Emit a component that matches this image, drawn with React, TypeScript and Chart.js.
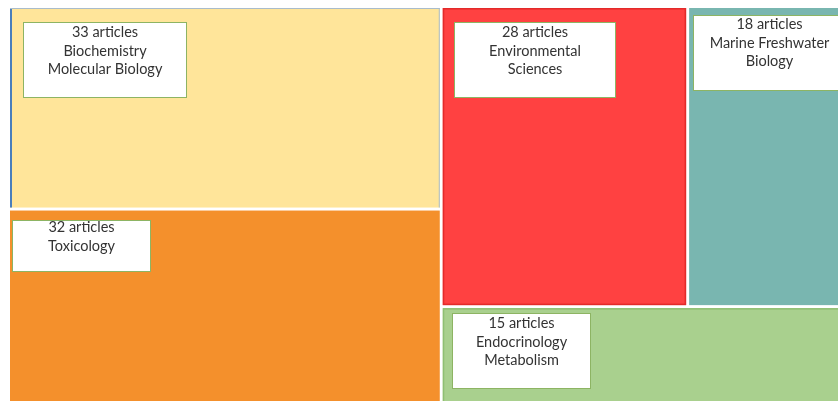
import React, { useEffect, useRef } from "react";
import { Chart, registerables } from "chart.js";

Chart.register(...registerables);

// ---- data ----
const categories = [
  "Biochemistry Molecular Biology",
  "Toxicology",
  "Environmental Sciences",
  "Marine Freshwater Biology",
  "Endocrinology Metabolism",
];
const articleCounts = [33, 32, 28, 18, 15];
const labelLines = [
  ["Biochemistry", "Molecular Biology"],
  ["Toxicology"],
  ["Environmental", "Sciences"],
  ["Marine Freshwater", "Biology"],
  ["Endocrinology", "Metabolism"],
];
// grouping of the treemap (indices into categories)
const layoutTree = { dir: "h", children: [
  { dir: "v", children: [0, 1] },
  { dir: "v", children: [{ dir: "h", children: [2, 3] }, 4] },
] };

// ---- styles ----
const fillColors = ["#FFE59A", "#F4902C", "#FF4141", "#79B6B0", "#A9D08E"];
const borderColors = [null, null, "#E32A2A", null, "#8FBF73"];
// label box geometry in px relative to the cell's top-left: [dx, dy, w, h, firstLineOffset]
const labelBoxes = [
  [13, 14, 163, 75, 10],
  [2, 9, 138, 51, 7],
  [11, 14, 161, 75, 10],
  [4, 7, 152, 75, 9],
  [9, 5, 138, 75, 10],
];

type Rect = { x0: number; y0: number; x1: number; y1: number };

function sumOf(node: any): number {
  if (typeof node === "number") return articleCounts[node];
  return node.children.reduce((s: number, c: any) => s + sumOf(c), 0);
}

function layout(node: any, r: Rect, out: Record<number, Rect>) {
  if (typeof node === "number") {
    out[node] = r;
    return;
  }
  const total = sumOf(node);
  let acc = 0;
  node.children.forEach((c: any) => {
    const v = sumOf(c);
    const a = acc / total;
    const b = (acc + v) / total;
    acc += v;
    const sub: Rect =
      node.dir === "h"
        ? { x0: r.x0 + (r.x1 - r.x0) * a, x1: r.x0 + (r.x1 - r.x0) * b, y0: r.y0, y1: r.y1 }
        : { x0: r.x0, x1: r.x1, y0: r.y0 + (r.y1 - r.y0) * a, y1: r.y0 + (r.y1 - r.y0) * b };
    layout(c, sub, out);
  });
}

const treemapPlugin = {
  id: "treemapCells",
  afterDatasetsDraw(chart: any) {
    const { ctx, scales } = chart;
    const xs = scales.x;
    const ys = scales.y;
    const cells: Record<number, Rect> = {};
    layout(layoutTree, { x0: 0, y0: 0, x1: 1, y1: 1 }, cells);
    const gap = 1.5;
    ctx.save();
    categories.forEach((_, i) => {
      const c = cells[i];
      let left = xs.getPixelForValue(c.x0);
      let right = xs.getPixelForValue(c.x1);
      let top = ys.getPixelForValue(c.y0);
      let bottom = ys.getPixelForValue(c.y1);
      if (c.x0 > 0) left += gap;
      if (c.x1 < 1) right -= gap;
      if (c.y0 > 0) top += gap;
      if (c.y1 < 1) bottom -= gap;
      ctx.fillStyle = fillColors[i];
      ctx.fillRect(left, top, right - left, bottom - top);
      if (borderColors[i]) {
        ctx.strokeStyle = borderColors[i];
        ctx.lineWidth = 1.5;
        ctx.strokeRect(left + 0.75, top + 0.75, right - left - 1.5, bottom - top - 1.5);
      }
      if (i === 0) {
        ctx.fillStyle = "#4A7EBB";
        ctx.fillRect(left, top, 2, bottom - top);
        ctx.fillStyle = "#A9BCCB";
        ctx.fillRect(left, top, right - left, 1);
        ctx.fillRect(right - 1, top, 1, bottom - top);
      }
      const [dx, dy, w, h, off] = labelBoxes[i];
      const bx = Math.round(left + dx) + 0.5;
      const by = Math.round(top + dy) + 0.5;
      ctx.fillStyle = "#FFFFFF";
      ctx.fillRect(bx, by, w, h);
      ctx.strokeStyle = "#8DB463";
      ctx.lineWidth = 1;
      ctx.strokeRect(bx, by, w, h);
      ctx.fillStyle = "#333333";
      ctx.font = "14.5px Lato";
      ctx.textAlign = "center";
      ctx.textBaseline = "middle";
      const lines = [articleCounts[i] + " articles", ...labelLines[i]];
      lines.forEach((t, k) => {
        ctx.fillText(t, bx + w / 2, by + off + k * 18.5);
      });
    });
    ctx.restore();
  },
};

export default function App() {
  const ref = useRef<HTMLCanvasElement>(null);
  useEffect(() => {
    if (!ref.current) return;
    const chart = new Chart(ref.current, {
      type: "scatter",
      data: { datasets: [{ data: [], label: "articles" }] },
      options: {
        animation: false,
        responsive: true,
        maintainAspectRatio: false,
        layout: { padding: { left: 2, right: 2, top: 0, bottom: 4 } },
        plugins: { legend: { display: false }, tooltip: { enabled: false } },
        scales: {
          x: { type: "linear", min: 0, max: 1, display: false },
          y: { type: "linear", min: 0, max: 1, reverse: true, display: false },
        },
      },
      plugins: [treemapPlugin],
    });
    return () => chart.destroy();
  }, []);
  return (
    <div style={{ position: "fixed", left: 8, top: 8, width: 840, height: 400 }}>
      <canvas ref={ref} />
    </div>
  );
}
